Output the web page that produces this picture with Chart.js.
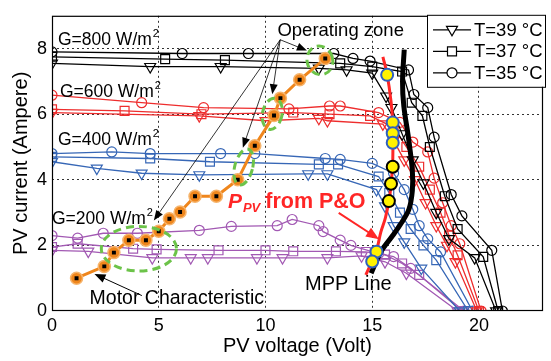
<!DOCTYPE html>
<html>
<head>
<meta charset="utf-8">
<script src="https://cdn.jsdelivr.net/npm/chart.js@4.4.0/dist/chart.umd.min.js"></script>
<style>
  html, body { margin: 0; padding: 0; background: #fff; }
  #wrap { width: 551px; height: 361px; }
</style>
</head>
<body>
<div id="wrap"><canvas id="ivChart" width="551" height="361"></canvas></div>
<script>
/* PV I-V curves at 4 irradiance levels x 3 temperatures, with motor load line and MPP tracking */

const xTicks = [0, 5, 10, 15, 20];
const yTicks = [0, 2, 4, 6, 8];
const tempLabels = ['T=39 °C', 'T=37 °C', 'T=35 °C'];

// G = 800 W/m2 (black)
const g800T35 = [[0,7.9],[6.1,7.85],[9.2,7.85],[13.2,7.85],[14.1,7.7],[14.9,7.62],[16.7,7.35],[16.95,6.6],[17.6,6.2],[17.9,5.3],[18.7,3.55],[19.2,2.9],[20.6,1.85],[21.1,0]];
const g800T37 = [[0,7.75],[5.3,7.68],[8.1,7.65],[13.5,7.55],[15.0,7.45],[16.4,7.3],[16.85,6.35],[17.35,5.95],[17.7,5.0],[18.4,3.5],[19.0,2.5],[20.2,1.65],[20.9,0]];
const g800T39 = [[0,7.55],[4.6,7.45],[7.9,7.45],[12.5,7.4],[13.8,7.35],[15.0,7.25],[15.65,6.55],[15.9,6.2],[16.4,5.4],[16.9,4.6],[17.4,3.9],[18.0,3.0],[18.6,2.2],[19.8,1.62],[20.8,0]];

// G = 600 W/m2 (red)
const g600T35 = [[0,6.58],[4.2,6.35],[7.1,6.2],[11.1,6.16],[13.0,6.25],[13.5,6.25],[15.3,6.05],[16.3,5.75],[16.9,5.15],[17.6,4.85],[17.9,4.05],[18.3,3.3],[18.7,2.6],[19.1,2.05],[20.1,0]];
const g600T37 = [[0,6.15],[3.4,6.1],[7.0,6.0],[11.3,6.05],[13.0,6.0],[14.9,5.95],[16.0,5.6],[16.6,5.0],[17.2,4.4],[17.7,3.7],[18.2,3.0],[18.6,2.3],[19.0,1.7],[20.0,0]];
const g600T39 = [[0,6.05],[6.9,5.95],[10.0,5.8],[12.5,5.87],[12.9,5.8],[15.5,5.7],[16.0,5.2],[16.5,4.6],[17.0,4.0],[17.5,3.3],[18.0,2.6],[18.5,2.0],[18.9,1.5],[19.9,0]];

// G = 400 W/m2 (blue)
const g400T35 = [[0,4.8],[2.8,4.85],[4.6,4.8],[7.9,4.8],[9.5,4.8],[12.8,4.65],[13.5,4.62],[15.0,4.5],[16.0,4.2],[16.5,3.7],[16.9,3.1],[17.2,2.6],[17.6,2.2],[18.2,1.8],[19.7,0]];
const g400T37 = [[0,4.7],[4.6,4.65],[7.4,4.55],[12.5,4.47],[13.4,4.47],[15.3,4.1],[15.8,3.6],[16.3,3.0],[16.8,2.5],[17.4,2.0],[18.0,1.55],[19.5,0]];
const g400T39 = [[0,4.55],[2.1,4.35],[4.2,4.2],[6.9,4.15],[12.0,4.18],[12.9,4.18],[15.2,3.7],[15.6,3.2],[16.0,2.6],[16.5,2.1],[17.3,1.3],[19.1,0]];

// G = 200 W/m2 (purple)
const g200T35 = [[0,2.3],[1.2,2.22],[2.4,2.37],[4.0,2.37],[6.9,2.46],[8.4,2.58],[10.55,2.6],[11.25,2.79],[12.5,2.6],[12.7,2.42],[13.5,2.16],[14.0,2.0],[15.3,1.75],[16.0,1.66],[16.8,1.3],[19.3,0]];
const g200T37 = [[0,1.95],[1.2,2.05],[3.8,1.9],[4.9,1.88],[7.8,1.85],[10.0,1.85],[11.3,1.82],[13.3,1.82],[14.7,1.8],[15.6,1.72],[16.4,1.45],[17.2,1.1],[19.2,0]];
const g200T39 = [[0,1.85],[1.7,1.82],[4.7,1.62],[6.5,1.62],[7.3,1.62],[9.6,1.62],[10.8,1.62],[12.9,1.62],[14.5,1.68],[15.6,1.5],[16.6,1.15],[19.0,0]];

// motor characteristic (operating points)
const motorPts = [[1.15,1.0],[2.45,1.36],[2.9,1.78],[3.6,2.16],[4.4,2.16],[5.0,2.43],[5.5,2.81],[6.0,3.02],[6.7,3.5],[7.7,3.5],[8.7,4.0],[9.5,5.04],[10.4,5.96],[10.7,6.49],[11.6,7.05],[12.8,7.7]];

// P&O tracked points and MPP line
const poLine = [[15.5,7.75],[15.7,7.2],[15.88,6.4],[15.96,5.75],[15.97,5.1],[15.95,4.4],[15.82,3.5],[15.62,2.85],[15.4,2.4],[15.2,1.85],[14.7,1.1]];
const poPtsBlue = [[15.7,7.2],[15.96,5.75],[15.96,5.42],[15.96,5.13],[15.2,1.81],[15.0,1.51]];
const poPtsBlack = [[15.96,4.4],[15.88,3.88],[15.78,3.35]];
const mppLine = [[16.5,7.97],[16.42,7.0],[16.48,6.25],[16.7,5.27],[16.88,4.27],[16.88,3.67],[16.72,3.1],[16.38,2.7],[15.96,2.3],[15.4,1.8],[14.95,1.15]];

// annotations (data units)
const irrLabels = [['G=800 W/m', 0.28, 8.12], ['G=600 W/m', 0.37, 6.52], ['G=400 W/m', 0.28, 5.07], ['G=200 W/m', 0.0, 2.64]];
const zoneEllipses = [[12.55, 7.64, 0.6, 0.44, -0.3], [10.32, 6.01, 0.46, 0.48, 0.2], [8.98, 4.39, 0.42, 0.56, 0.25], [4.07, 1.9, 1.76, 0.68, 0]];
const zoneArrowFrom = [10.69, 8.27];
const zoneArrowTo = [[11.94, 7.94], [10.32, 6.61], [8.94, 4.98], [4.77, 2.76]];

const FONT = '"Liberation Sans", Arial, sans-serif';
const C_BLACK = '#000', C_RED = '#ee2d2d', C_BLUE = '#3767b6', C_PURPLE = '#a259b3';
const C_ORANGE = '#ef861c', C_GREEN = '#6cc349', C_YELLOW = '#fff200';

const toXY = arr => arr.map(([x, y]) => ({ x, y }));

function curve(data, color, style) {
  const r = style === 'circle' ? 5 : 6.3;
  return {
    data: toXY(data), showLine: true, borderColor: color, borderWidth: 1.3, tension: 0,
    pointStyle: style, rotation: style === 'triangle' ? 180 : 0, pointRadius: r,
    pointBorderColor: color, pointBackgroundColor: 'rgba(255,255,255,0)', pointBorderWidth: 1.2
  };
}

function yellowPts(data, edge) {
  return { data: toXY(data), showLine: false, pointStyle: 'circle', pointRadius: 6,
    pointBackgroundColor: C_YELLOW, pointBorderColor: edge, pointBorderWidth: 2 };
}

const datasets = [
  yellowPts(poPtsBlue, '#2f5fbf'),
  yellowPts(poPtsBlack, '#000'),
  { data: toXY(motorPts), showLine: false, pointStyle: 'rect', pointRadius: 2.8, pointBackgroundColor: '#000', pointBorderWidth: 0 },
  { data: toXY(motorPts), showLine: true, borderColor: C_ORANGE, borderWidth: 3, pointStyle: 'circle', pointRadius: 6,
    pointBackgroundColor: C_ORANGE, pointBorderColor: '#f6b46c', pointBorderWidth: 1.5 },
  { data: toXY(mppLine), showLine: true, borderColor: '#000', borderWidth: 5, tension: 0.35, pointRadius: 0 },
  { data: toXY(poLine), showLine: true, borderColor: '#ff2626', borderWidth: 3, tension: 0.35, pointRadius: 0 },
  curve(g800T39, C_BLACK, 'triangle'), curve(g800T37, C_BLACK, 'rect'), curve(g800T35, C_BLACK, 'circle'),
  curve(g600T39, C_RED, 'triangle'), curve(g600T37, C_RED, 'rect'), curve(g600T35, C_RED, 'circle'),
  curve(g400T39, C_BLUE, 'triangle'), curve(g400T37, C_BLUE, 'rect'), curve(g400T35, C_BLUE, 'circle'),
  curve(g200T39, C_PURPLE, 'triangle'), curve(g200T37, C_PURPLE, 'rect'), curve(g200T35, C_PURPLE, 'circle')
];

function arrow(ctx, x1, y1, x2, y2, color, width, head) {
  const a = Math.atan2(y2 - y1, x2 - x1);
  ctx.save();
  ctx.strokeStyle = color; ctx.fillStyle = color; ctx.lineWidth = width;
  ctx.beginPath(); ctx.moveTo(x1, y1);
  ctx.lineTo(x2 - Math.cos(a) * head * 0.8, y2 - Math.sin(a) * head * 0.8); ctx.stroke();
  ctx.beginPath(); ctx.moveTo(x2, y2);
  ctx.lineTo(x2 - head * Math.cos(a) + head * 0.4 * Math.sin(a), y2 - head * Math.sin(a) - head * 0.4 * Math.cos(a));
  ctx.lineTo(x2 - head * Math.cos(a) - head * 0.4 * Math.sin(a), y2 - head * Math.sin(a) + head * 0.4 * Math.cos(a));
  ctx.closePath(); ctx.fill();
  ctx.restore();
}

function marker(ctx, style, x, y) {
  ctx.beginPath();
  if (style === 'triangle') { ctx.moveTo(x - 5.5, y - 3.5); ctx.lineTo(x + 5.5, y - 3.5); ctx.lineTo(x, y + 6); ctx.closePath(); }
  else if (style === 'rect') ctx.rect(x - 4.5, y - 4.5, 9, 9);
  else ctx.arc(x, y, 5, 0, Math.PI * 2);
  ctx.fill(); ctx.stroke();
}

const decorPlugin = {
  id: 'decor',
  afterDatasetsDraw(chart) {
    const { ctx, chartArea: a, scales: { x, y } } = chart;
    const px = v => x.getPixelForValue(v), py = v => y.getPixelForValue(v);

    // plot frame
    ctx.save();
    ctx.strokeStyle = '#000'; ctx.lineWidth = 1.2;
    ctx.strokeRect(a.left + 0.5, a.top + 0.5, a.right - a.left - 1, a.bottom - a.top - 1);

    // operating zone ellipses
    ctx.strokeStyle = C_GREEN; ctx.lineWidth = 3; ctx.setLineDash([8, 5]);
    zoneEllipses.forEach(([cx, cy, rx, ry, rot]) => {
      ctx.beginPath();
      ctx.ellipse(px(cx), py(cy), Math.abs(px(cx + rx) - px(cx)), Math.abs(py(cy + ry) - py(cy)), rot, 0, Math.PI * 2);
      ctx.stroke();
    });
    ctx.setLineDash([]);

    // arrows
    zoneArrowTo.forEach(([tx, ty]) => arrow(ctx, px(zoneArrowFrom[0]), py(zoneArrowFrom[1]), px(tx), py(ty), '#000', 0.8, 10));
    arrow(ctx, px(4.21), py(0.47), px(1.99), py(1.13), '#000', 1, 11);
    arrow(ctx, px(13.43), py(2.99), px(15.32), py(2.19), '#ff2626', 2, 13);

    // texts
    ctx.fillStyle = '#000'; ctx.textBaseline = 'alphabetic'; ctx.textAlign = 'left';
    irrLabels.forEach(([t, tx, ty]) => {
      ctx.font = '17.5px ' + FONT;
      ctx.fillText(t, px(tx), py(ty));
      const w = ctx.measureText(t).width;
      ctx.font = '11px ' + FONT;
      ctx.fillText('2', px(tx) + w + 1, py(ty) - 8);
    });
    ctx.font = '18.5px ' + FONT;
    ctx.fillText('Operating zone', px(10.56), py(8.39));
    ctx.font = '19.5px ' + FONT;
    ctx.fillText('Motor Characteristic', px(1.76), py(0.21));
    ctx.font = '20px ' + FONT;
    ctx.fillText('MPP Line', px(11.85), py(0.65));

    ctx.fillStyle = '#ff2626';
    let tx = px(8.24);
    const tyb = py(3.14);
    ctx.font = 'italic bold 21px ' + FONT;
    ctx.fillText('P', tx, tyb); tx += ctx.measureText('P').width + 1;
    ctx.font = 'italic bold 13px ' + FONT;
    ctx.fillText('PV', tx, tyb + 4); tx += ctx.measureText('PV').width + 5;
    ctx.font = 'bold 21.5px ' + FONT;
    ctx.fillText('from P&O', tx, tyb);

    // legend box
    const lx = a.right - 116, ly = a.top - 1, lw = 118, lh = 72;
    ctx.fillStyle = '#fff'; ctx.strokeStyle = '#000'; ctx.lineWidth = 1;
    ctx.fillRect(lx, ly, lw, lh);
    ctx.strokeRect(lx + 0.5, ly + 0.5, lw, lh);
    ['triangle', 'rect', 'circle'].forEach((s, i) => {
      const ry = ly + 15 + i * 21.5;
      ctx.strokeStyle = '#000'; ctx.lineWidth = 1.2;
      ctx.beginPath(); ctx.moveTo(lx + 6, ry); ctx.lineTo(lx + 44, ry); ctx.stroke();
      ctx.fillStyle = '#fff';
      marker(ctx, s, lx + 25, ry);
      ctx.fillStyle = '#000'; ctx.font = '18.5px ' + FONT; ctx.textBaseline = 'middle';
      ctx.fillText(tempLabels[i], lx + 47, ry + 1);
    });
    ctx.restore();
  }
};

const tickFont = { family: FONT, size: 18 };
const gridColor = c => (c.tick && c.tick.value === 0) ? 'rgba(0,0,0,0)' : '#333';

new Chart(document.getElementById('ivChart'), {
  type: 'scatter',
  data: { datasets },
  options: {
    responsive: false, animation: false, devicePixelRatio: 1,
    layout: { padding: { top: 6, right: 2, left: 0, bottom: 0 } },
    plugins: { legend: { display: false }, tooltip: { enabled: false } },
    scales: {
      x: {
        type: 'linear', min: 0, max: 23,
        afterBuildTicks: s => { s.ticks = xTicks.map(v => ({ value: v })); },
        afterFit: s => { s.height = 50; },
        ticks: { color: '#000', font: tickFont, padding: 4, maxRotation: 0 },
        grid: { color: gridColor, lineWidth: 1, drawTicks: false },
        border: { display: false, dash: [2, 3] },
        title: { display: true, text: 'PV voltage (Volt)', color: '#000', font: { family: FONT, size: 20 }, padding: { top: 0, bottom: 3 } }
      },
      y: {
        type: 'linear', min: 0, max: 9,
        afterBuildTicks: s => { s.ticks = yTicks.map(v => ({ value: v })); },
        afterFit: s => { s.width = 52; },
        ticks: { color: '#000', font: tickFont, padding: 5 },
        grid: { color: gridColor, lineWidth: 1, drawTicks: false },
        border: { display: false, dash: [2, 3] },
        title: { display: true, text: 'PV current (Ampere)', color: '#000', font: { family: FONT, size: 20 }, padding: { top: 9, bottom: 0 } }
      }
    }
  },
  plugins: [decorPlugin]
});
</script>
</body>
</html>
